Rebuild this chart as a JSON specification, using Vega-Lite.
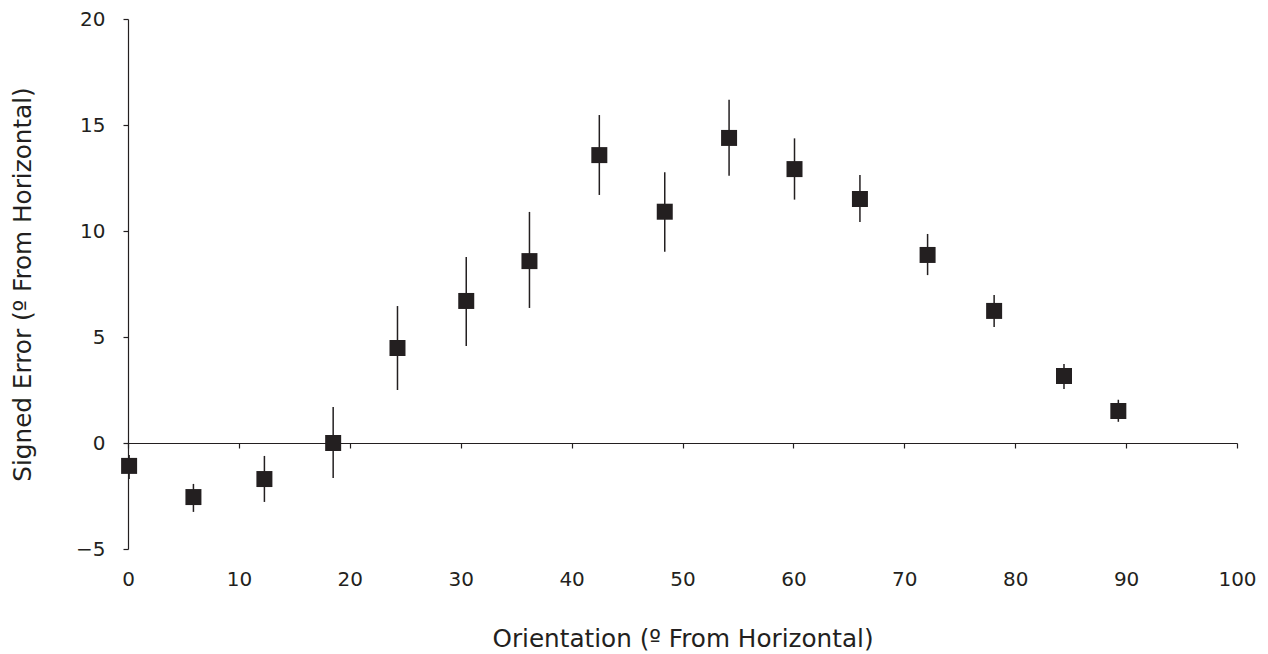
{
  "$schema": "https://vega.github.io/schema/vega-lite/v6.json",
  "width": 1109,
  "height": 530,
  "autosize": {"type": "none"},
  "padding": {"left": 128, "top": 19, "right": 31, "bottom": 105},
  "background": "white",
  "config": {
    "view": {"stroke": null},
    "font": "DejaVu Sans",
    "axis": {"grid": false, "labelFont": "DejaVu Sans", "titleFont": "DejaVu Sans", "labelColor": "#231f20", "titleColor": "#231f20", "labelFontSize": 20, "titleFontSize": 24.7, "titleFontWeight": "normal", "domainColor": "#231f20", "tickColor": "#231f20", "domainWidth": 1.2, "tickWidth": 1.2, "labelFlush": false}
  },
  "data": {"values": [
    {"orientation": 0.1, "error": -1.08, "lo": -1.70, "hi": -0.57},
    {"orientation": 5.9, "error": -2.55, "lo": -3.25, "hi": -1.93},
    {"orientation": 12.3, "error": -1.70, "lo": -2.78, "hi": -0.61},
    {"orientation": 18.5, "error": 0.0, "lo": -1.65, "hi": 1.70},
    {"orientation": 24.3, "error": 4.48, "lo": 2.50, "hi": 6.46},
    {"orientation": 30.5, "error": 6.70, "lo": 4.58, "hi": 8.77},
    {"orientation": 36.2, "error": 8.58, "lo": 6.37, "hi": 10.9},
    {"orientation": 42.5, "error": 13.58, "lo": 11.70, "hi": 15.47},
    {"orientation": 48.4, "error": 10.91, "lo": 9.02, "hi": 12.77},
    {"orientation": 54.2, "error": 14.39, "lo": 12.61, "hi": 16.19},
    {"orientation": 60.1, "error": 12.92, "lo": 11.48, "hi": 14.37},
    {"orientation": 66.0, "error": 11.51, "lo": 10.42, "hi": 12.64},
    {"orientation": 72.1, "error": 8.87, "lo": 7.92, "hi": 9.86},
    {"orientation": 78.1, "error": 6.23, "lo": 5.47, "hi": 6.98},
    {"orientation": 84.4, "error": 3.16, "lo": 2.55, "hi": 3.73},
    {"orientation": 89.3, "error": 1.51, "lo": 1.0, "hi": 2.04}
  ]},
  "layer": [
    {
      "mark": {"type": "rule", "color": "#231f20", "strokeWidth": 1.5},
      "encoding": {
        "x": {"field": "orientation", "type": "quantitative", "scale": {"domain": [0, 100], "nice": false},
          "axis": {"orient": "bottom", "title": "Orientation (º From Horizontal)", "values": [0,10,20,30,40,50,60,70,80,90,100], "domain": false, "ticks": false, "labelPadding": 20, "titlePadding": 37}},
        "y": {"field": "lo", "type": "quantitative", "scale": {"domain": [-5, 20], "nice": false},
          "axis": {"title": "Signed Error (º From Horizontal)", "values": [-5,0,5,10,15,20], "tickSize": 5, "labelPadding": 18, "titlePadding": 40}},
        "y2": {"field": "hi"}
      }
    },
    {
      "mark": {"type": "point", "shape": "square", "filled": true, "size": 256, "color": "#231f20", "opacity": 1},
      "encoding": {
        "x": {"field": "orientation", "type": "quantitative",
          "axis": {"orient": "bottom", "title": null, "labels": false, "values": [0,10,20,30,40,50,60,70,80,90,100], "domain": true, "ticks": true, "tickSize": 5, "offset": -106}},
        "y": {"field": "error", "type": "quantitative"}
      }
    }
  ],
  "resolve": {"axis": {"x": "independent"}}
}
